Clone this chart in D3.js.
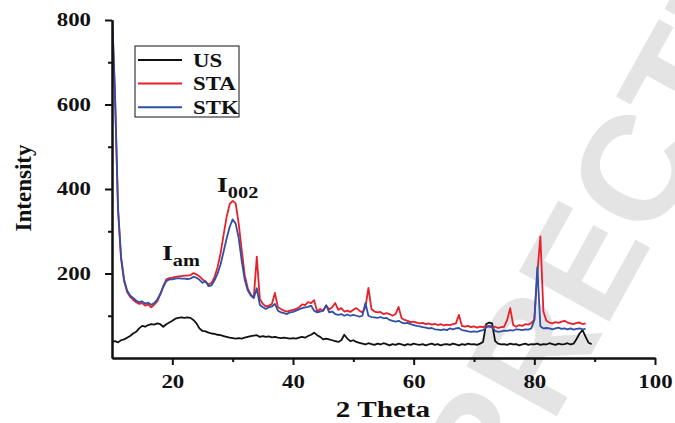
<!DOCTYPE html>
<html>
<head>
<meta charset="utf-8">
<script src="https://cdn.jsdelivr.net/npm/d3@7"></script>
<style>
  body { margin: 0; background: #fff; }
  text { font-family: "Liberation Serif", "Times New Roman", serif; font-weight: bold; }
</style>
</head>
<body>
<svg id="chart"></svg>
<script>
// 2 theta grid (deg), one row per 10 deg
const theta = [
  10, 10.5, 11, 11.5, 12, 12.5, 13, 13.5, 14, 14.5, 15, 15.5, 16, 16.5, 17, 17.5, 18, 18.5, 19, 19.5,
  20, 20.5, 21, 21.5, 22, 22.5, 23, 23.5, 24, 24.5, 25, 25.5, 26, 26.5, 27, 27.5, 28, 28.5, 29, 29.5,
  30, 30.5, 31, 31.5, 32, 32.5, 33, 33.5, 34, 34.5, 35, 35.5, 36, 36.5, 37, 37.5, 38, 38.5, 39, 39.5,
  40, 40.5, 41, 41.5, 42, 42.5, 43, 43.5, 44, 44.5, 45, 45.5, 46, 46.5, 47, 47.5, 48, 48.5, 49, 49.5,
  50, 50.5, 51, 51.5, 52, 52.5, 53, 53.5, 54, 54.5, 55, 55.5, 56, 56.5, 57, 57.5, 58, 58.5, 59, 59.5,
  60, 60.5, 61, 61.5, 62, 62.5, 63, 63.5, 64, 64.5, 65, 65.5, 66, 66.5, 67, 67.5, 68, 68.5, 69, 69.5,
  70, 70.5, 71, 71.5, 72, 72.5, 73, 73.5, 74, 74.5, 75, 75.5, 76, 76.5, 77, 77.5, 78, 78.5, 79, 79.5,
  80, 80.5, 81, 81.5, 82, 82.5, 83, 83.5, 84, 84.5, 85, 85.5, 86, 86.5, 87, 87.5, 88, 88.5, 89, 89.5
];

const usVals = [
  38, 40, 37, 42, 44, 48, 52, 58, 62, 70, 76, 74, 78, 80, 79, 82, 80, 74, 80, 84,
  88, 93, 95, 96, 95, 96, 95, 90, 82, 70, 64, 63, 60, 58, 57, 55, 54, 52, 50, 48,
  47, 46, 47, 46, 48, 50, 52, 53, 54, 50, 52, 50, 51, 49, 50, 48, 47, 48, 47, 46,
  47, 46, 48, 50, 48, 52, 55, 60, 54, 50, 44, 46, 44, 42, 40, 38, 42, 55, 46, 40,
  42, 38, 36, 34, 32, 35, 33, 31, 34, 32, 35, 33, 30, 33, 31, 34, 32, 30, 33, 31,
  34, 32, 31, 33, 30, 32, 34, 31, 33, 30, 32, 33, 31, 34, 32, 30, 33, 31, 34, 32,
  33, 31, 34, 38, 80, 84, 82, 40, 34, 32, 33, 31, 34, 32, 33, 30, 32, 34, 31, 33,
  32, 34, 31, 33, 32, 35, 33, 31, 34, 32, 33, 35, 32, 34, 45, 58, 66, 50, 36, 33
];

const staVals = [
  820, 620, 350, 235, 182, 156, 145, 138, 132, 128, 130, 124, 127, 120, 126, 134, 150, 170, 186, 189,
  190, 192, 193, 194, 195, 195, 196, 201, 198, 193, 186, 181, 174, 178, 192, 215, 248, 292, 334, 364,
  372, 366, 318, 255, 196, 165, 150, 143, 240, 140, 128, 122, 124, 128, 154, 120, 116, 112, 110, 112,
  114, 116, 120, 127, 125, 132, 130, 137, 110, 116, 112, 124, 115, 120, 130, 114, 118, 110, 112, 109,
  114, 118, 112, 108, 120, 166, 116, 110, 108, 109, 104, 106, 104, 100, 104, 121, 94, 90, 88, 85,
  86, 84, 82, 83, 80, 82, 79, 81, 78, 80, 77, 79, 78, 80, 82, 102, 76, 74, 76, 73,
  75, 72, 74, 73, 76, 74, 72, 74, 71, 73, 74, 90, 118, 78, 74, 78, 76, 80, 79, 83,
  90, 200, 288, 110, 88, 84, 82, 85, 83, 86, 88, 84, 82, 80, 83, 84, 80, 82, null, null
];

const stkVals = [
  820, 625, 355, 240, 186, 160, 148, 142, 136, 132, 134, 129, 131, 126, 130, 138, 152, 168, 182, 186,
  186, 188, 189, 188, 188, 187, 188, 192, 190, 185, 178, 182, 170, 172, 184, 200, 222, 252, 283, 310,
  328, 318, 284, 230, 185, 160, 148, 142, 165, 126, 120, 116, 120, 122, 128, 112, 108, 106, 104, 108,
  109, 112, 115, 118, 120, 121, 124, 112, 108, 110, 112, 125, 108, 110, 104, 102, 104, 100, 103, 100,
  102, 100, 98, 100, 130, 100, 97, 96, 95, 97, 94, 95, 90, 88, 86, 88, 84, 82, 83, 80,
  78, 76, 75, 73, 72, 70, 71, 68, 67, 66, 68, 66, 70, 68, 70, 71, 66, 65, 63, 62,
  63, 62, 64, 66, 72, 76, 74, 64, 62, 63, 65, 64, 66, 65, 68, 67, 66, 68, 67, 70,
  90, 215, 75, 70, 71, 70, 68, 70, 72, 69, 70, 68, 70, 67, 69, 70, 68, 69, null, null
];

const seriesNames = ['US', 'STA', 'STK'];
const seriesColors = ['#111111', '#e8202a', '#2f4fa8'];
const xMajorTicks = [20, 40, 60, 80, 100];
const xMinorTicks = [30, 50, 70, 90];
const yMajorTicks = [200, 400, 600, 800];
const yMinorTicks = [100, 300, 500, 700];

const W = 675, H = 423;
const plotLeft = 112, plotRight = 655, plotTop = 20, plotBottom = 358;
const SX = 1.27; // the source image is stretched horizontally

const svg = d3.select('#chart').attr('width', W).attr('height', H);

// faint watermark behind the plot
const wm = svg.append('text')
  .text('UNCORRECTED PROOF')
  .attr('font-family', '"Liberation Sans", Arial, sans-serif')
  .attr('font-size', 150)
  .attr('fill', '#e4e4e4')
  .style('font-family', '"Liberation Sans", Arial, sans-serif');
const r5 = wm.node().getStartPositionOfChar(5).x;
wm.attr('transform', `translate(552,425) rotate(-61) translate(${-r5},0)`);

const x = d3.scaleLinear().domain([10, 100]).range([plotLeft, plotRight]);
const y = d3.scaleLinear().domain([0, 800]).range([plotBottom, plotTop]);

svg.append('clipPath').attr('id', 'plot')
  .append('rect').attr('x', plotLeft).attr('y', plotTop)
  .attr('width', plotRight - plotLeft).attr('height', plotBottom - plotTop);

const series = [usVals, staVals, stkVals].map((vals, i) => ({
  name: seriesNames[i],
  color: seriesColors[i],
  points: theta.map((t, j) => ({ t: t, v: vals[j] }))
}));

const line = d3.line()
  .defined(d => d.v != null)
  .x(d => x(d.t))
  .y(d => y(d.v));

// black first, then red, then blue on top
svg.append('g').attr('clip-path', 'url(#plot)')
  .selectAll('path')
  .data(series).enter()
  .append('path')
  .attr('d', d => line(d.points))
  .attr('fill', 'none')
  .attr('stroke', d => d.color)
  .attr('stroke-width', 1.8)
  .attr('stroke-linejoin', 'round');

function stretchText(sel) {
  sel.each(function () {
    const t = d3.select(this);
    const tx = +t.attr('x') || 0;
    t.attr('x', tx / SX).attr('transform', `scale(${SX},1)`);
  });
}

// axes
svg.append('g')
  .attr('transform', `translate(0,${plotBottom})`)
  .call(d3.axisBottom(x).tickValues(xMajorTicks).tickSize(7).tickSizeOuter(0).tickPadding(10));
svg.append('g')
  .attr('transform', `translate(0,${plotBottom})`)
  .call(d3.axisBottom(x).tickValues(xMinorTicks).tickSize(4).tickSizeOuter(0).tickFormat(''));

svg.append('g')
  .attr('transform', `translate(${plotLeft},0)`)
  .call(d3.axisLeft(y).tickValues(yMajorTicks).tickSize(7).tickSizeOuter(0).tickPadding(14));
svg.append('g')
  .attr('transform', `translate(${plotLeft},0)`)
  .call(d3.axisLeft(y).tickValues(yMinorTicks).tickSize(4).tickSizeOuter(0).tickFormat(''));

svg.selectAll('.domain').attr('stroke', '#111').attr('stroke-width', 2);
svg.selectAll('.tick line').attr('stroke', '#111').attr('stroke-width', 2);
svg.selectAll('.tick text')
  .attr('font-family', '"Liberation Serif", serif')
  .attr('font-weight', 'bold')
  .attr('font-size', 18)
  .attr('fill', '#111')
  .call(stretchText);

// axis titles
svg.append('text')
  .attr('transform', `translate(383,417) scale(${SX},1)`)
  .attr('text-anchor', 'middle')
  .attr('font-size', 23)
  .attr('fill', '#111')
  .text('2 Theta');

svg.append('text')
  .attr('transform', `translate(31,188) rotate(-90)`)
  .attr('text-anchor', 'middle')
  .attr('font-size', 23)
  .attr('fill', '#111')
  .text('Intensity');

// peak annotations
function peakLabel(px, py, sub) {
  const t = svg.append('text')
    .attr('transform', `translate(${px},${py}) scale(${SX},1)`)
    .attr('font-size', 22)
    .attr('fill', '#111');
  t.append('tspan').text('I');
  t.append('tspan').attr('font-size', 16).attr('dy', 6).text(sub);
}
peakLabel(162, 260, 'am');
peakLabel(217, 192, '002');

// legend
const legend = svg.append('g');
legend.append('rect')
  .attr('x', 135).attr('y', 46).attr('width', 104).attr('height', 71)
  .attr('fill', '#fff').attr('stroke', '#111').attr('stroke-width', 1);
const rows = legend.selectAll('g.row')
  .data(series).enter()
  .append('g')
  .attr('class', 'row')
  .attr('transform', (d, i) => `translate(0,${60 + i * 23.6})`);
rows.append('line')
  .attr('x1', 138).attr('x2', 182)
  .attr('stroke', d => d.color).attr('stroke-width', 2);
rows.append('text')
  .attr('transform', `translate(193,6.5) scale(${SX},1)`)
  .attr('font-size', 18)
  .attr('fill', '#111')
  .text(d => d.name);
</script>
</body>
</html>
